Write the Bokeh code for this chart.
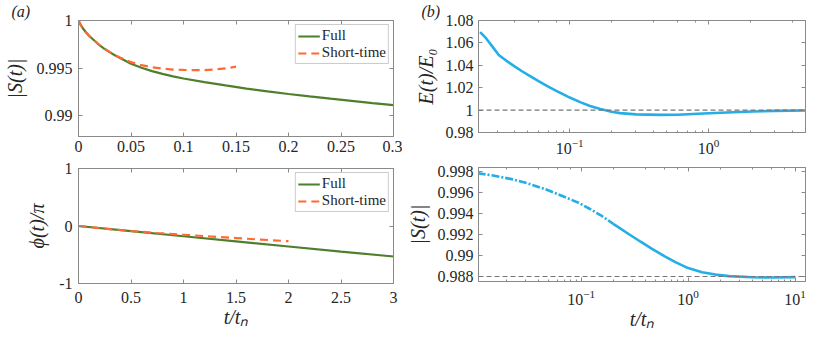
from bokeh.plotting import figure
from bokeh.layouts import row, column
from bokeh.models import (Range1d, FixedTicker, CustomJSTickFormatter, LinearAxis, LogAxis,
                          Legend, LegendItem, Span, LogTicker, Title)
from bokeh.embed import file_html
from bokeh.resources import INLINE

# ---------------- data ----------------
# (a) top: |S(t)| vs t/t_n
t_full = [0, 0.0025, 0.005, 0.0075, 0.01, 0.015, 0.02, 0.025, 0.03, 0.035, 0.04, 0.05,
          0.06, 0.07, 0.08, 0.09, 0.1, 0.12, 0.14, 0.16, 0.18, 0.2, 0.22, 0.24, 0.26,
          0.28, 0.3]
S_full = [1.0, 0.99945, 0.99905, 0.99870, 0.99840, 0.99790, 0.99740, 0.99700, 0.99665,
          0.99632, 0.99602, 0.99545, 0.99503, 0.99468, 0.99438, 0.99412, 0.99390, 0.99352,
          0.99317, 0.99283, 0.99254, 0.99227, 0.99202, 0.99178, 0.99155, 0.99132, 0.99110]
t_short = [0, 0.0025, 0.005, 0.0075, 0.01, 0.015, 0.02, 0.025, 0.03, 0.035, 0.04, 0.05,
           0.06, 0.07, 0.08, 0.09, 0.1, 0.11, 0.12, 0.13, 0.14, 0.15]
S_short = [1.0, 0.99945, 0.99905, 0.99870, 0.99840, 0.99790, 0.99742, 0.99702, 0.99667,
           0.99636, 0.99609, 0.99562, 0.99530, 0.99508, 0.99493, 0.99484, 0.99480, 0.99478,
           0.99479, 0.99485, 0.99497, 0.99514]

# (a) bottom: phi(t)/pi vs t/t_n
tp_full = [0, 0.5, 1, 1.5, 2, 2.5, 3]
phi_full = [0, -0.09, -0.178, -0.266, -0.357, -0.445, -0.53]
tp_short = [0, 0.25, 0.5, 0.75, 1, 1.25, 1.5, 1.75, 2]
phi_short = [0, -0.045, -0.087, -0.122, -0.152, -0.182, -0.21, -0.238, -0.264]

# (b) top: E(t)/E0 vs t/t_n (log axis)
tE = [0.0226, 0.025, 0.028, 0.0309, 0.035, 0.04, 0.045, 0.05, 0.06, 0.07, 0.08, 0.09,
      0.1, 0.12, 0.14, 0.166, 0.2, 0.231, 0.3, 0.448, 0.6, 0.916, 1.5, 2.09, 3.0, 5.0]
E = [1.0696, 1.0640, 1.0560, 1.0490, 1.0440, 1.0390, 1.0349, 1.0314, 1.0256, 1.0210,
     1.0172, 1.0140, 1.0112, 1.0069, 1.0037, 1.0009, 0.9986, 0.9973, 0.9962, 0.9957,
     0.9959, 0.9970, 0.9981, 0.9987, 0.9993, 0.9997]
E_ref = 1.0

# (b) bottom: |S(t)| vs t/t_n (log axis)
tS = [0.0108, 0.015, 0.0224, 0.032, 0.046, 0.065, 0.0946, 0.12, 0.156, 0.2, 0.278, 0.36,
      0.46, 0.6, 0.76, 1.0, 1.35, 1.8, 2.41, 3.98, 6.0, 10.0]
S_long = [0.99787, 0.99765, 0.99730, 0.99688, 0.99635, 0.99573, 0.99505, 0.99447, 0.99378,
          0.99303, 0.99206, 0.99132, 0.99063, 0.98995, 0.98937, 0.98880, 0.98841, 0.98818,
          0.98803, 0.98792, 0.98790, 0.98794]
S_ref = 0.988

# tick values
xt_a1 = [0, 0.05, 0.1, 0.15, 0.2, 0.25, 0.3]
yt_a1 = [0.99, 0.995, 1]
xt_a2 = [0, 0.5, 1, 1.5, 2, 2.5, 3]
yt_a2 = [-1, 0, 1]
yt_b1 = [0.98, 1.0, 1.02, 1.04, 1.06, 1.08]
yt_b2 = [0.988, 0.99, 0.992, 0.994, 0.996, 0.998]

# ---------------- style ----------------
FONT = "Liberation Serif"
AX = "#8a8a8a"
TXT = "#262626"
GREEN = "#4E7F2B"
ORANGE = "#FF6A33"
BLUE = "#22AEE6"
GRAY = "#777777"

fmt = CustomJSTickFormatter(code="return Number(tick.toFixed(6)).toString();")
blank = CustomJSTickFormatter(code="return '';")


def make_fig(w, h, bl, br, bt, bb, xr, yr, xtype="linear"):
    p = figure(width=w, height=h, x_range=xr, y_range=yr, x_axis_type=xtype,
               output_backend="svg", toolbar_location=None,
               min_border_left=bl, min_border_right=br, min_border_top=bt, min_border_bottom=bb)
    p.grid.visible = False
    p.outline_line_color = AX
    p.background_fill_color = "white"
    p.border_fill_color = "white"
    return p


def style_axis(ax, minor=False, standoff=5):
    ax.axis_line_color = AX
    ax.major_tick_line_color = AX
    ax.major_tick_in = 4
    ax.major_tick_out = 0
    if minor:
        ax.minor_tick_line_color = AX
        ax.minor_tick_in = 2
        ax.minor_tick_out = 0
    else:
        ax.minor_tick_line_color = None
    ax.major_label_text_font = FONT
    ax.major_label_text_font_size = "16px"
    ax.major_label_text_color = TXT
    ax.major_label_standoff = standoff
    ax.axis_label_text_font = FONT
    ax.axis_label_text_font_style = "italic"
    ax.axis_label_text_font_size = "20px"
    ax.axis_label_text_color = TXT


def mirror(p, xticks=None, yticks=None, logx=False):
    if logx:
        top = LogAxis(ticker=LogTicker(), formatter=blank)
        style_axis(top, minor=True, standoff=0)
    else:
        top = LinearAxis(ticker=FixedTicker(ticks=xticks), formatter=blank)
        style_axis(top, standoff=0)
    top.major_label_text_font_size = "0px"
    right = LinearAxis(ticker=FixedTicker(ticks=yticks), formatter=blank)
    style_axis(right, standoff=0)
    right.major_label_text_font_size = "0px"
    p.add_layout(top, "above")
    p.add_layout(right, "right")


def legend(p, items):
    lg = Legend(items=items, location="top_right", margin=4, padding=2, spacing=0,
                label_text_font=FONT, label_text_font_size="15px", label_text_color=TXT,
                glyph_width=22, glyph_height=16, label_standoff=2, label_height=16,
                border_line_color="#999999", border_line_width=1,
                background_fill_color="white", background_fill_alpha=1)
    p.add_layout(lg)


def panel_tag(p, text, offset):
    t = Title(text=text, align="left", offset=offset, standoff=1,
              text_font=FONT, text_font_style="italic", text_font_size="16px",
              text_color=TXT)
    p.add_layout(t, "above")


# canvas origin is at page (8, 8)
# ---------------- (a) top ----------------
pa1 = make_fig(402, 158, 68, 9, 20, 22, Range1d(0, 0.3), Range1d(0.9878, 1.0))
pa1.xaxis.ticker = FixedTicker(ticks=xt_a1)
pa1.yaxis.ticker = FixedTicker(ticks=yt_a1)
pa1.xaxis.formatter = fmt
pa1.yaxis.formatter = fmt
style_axis(pa1.xaxis[0], standoff=4)
style_axis(pa1.yaxis[0], standoff=6)
pa1.yaxis.axis_label = "|S(t)|"
pa1.yaxis.axis_label_standoff = 8
r1 = pa1.line(t_full, S_full, line_color=GREEN, line_width=2.2)
r2 = pa1.line(t_short, S_short, line_color=ORANGE, line_width=2.2, line_dash="8 5")
mirror(pa1, xt_a1, yt_a1)
legend(pa1, [LegendItem(label="Full", renderers=[r1]), LegendItem(label="Short-time", renderers=[r2])])
panel_tag(pa1, "(a)", -67)

# ---------------- (a) bottom ----------------
pa2 = make_fig(402, 177, 68, 8, 10, 52, Range1d(0, 3), Range1d(-1, 1))
pa2.xaxis.ticker = FixedTicker(ticks=xt_a2)
pa2.yaxis.ticker = FixedTicker(ticks=yt_a2)
pa2.xaxis.formatter = fmt
pa2.yaxis.formatter = fmt
style_axis(pa2.xaxis[0], standoff=8)
style_axis(pa2.yaxis[0], standoff=6)
pa2.yaxis.axis_label = "ϕ(t)/π"
pa2.yaxis.axis_label_standoff = 8
pa2.xaxis.axis_label = "t/tₙ"
pa2.xaxis.axis_label_standoff = 0
r3 = pa2.line(tp_full, phi_full, line_color=GREEN, line_width=2.2)
r4 = pa2.line(tp_short, phi_short, line_color=ORANGE, line_width=2.2, line_dash="8 5")
mirror(pa2, xt_a2, yt_a2)
legend(pa2, [LegendItem(label="Full", renderers=[r3]), LegendItem(label="Short-time", renderers=[r4])])

# ---------------- (b) top ----------------
pb1 = make_fig(407, 160, 74, 4, 20, 28, Range1d(0.022, 5.0), Range1d(0.98, 1.08), xtype="log")
pb1.yaxis.ticker = FixedTicker(ticks=yt_b1)
pb1.yaxis.formatter = fmt
style_axis(pb1.xaxis[0], minor=True, standoff=6)
style_axis(pb1.yaxis[0], standoff=5)
pb1.yaxis.axis_label = "E(t)/E₀"
pb1.yaxis.axis_label_standoff = 6
pb1.add_layout(Span(location=E_ref, dimension="width", line_color=GRAY, line_width=1.2,
                    line_dash="5 3"))
pb1.line(tE, E, line_color=BLUE, line_width=2.6)
mirror(pb1, yticks=yt_b1, logx=True)
panel_tag(pb1, "(b)", -57)

# ---------------- (b) bottom ----------------
pb2 = make_fig(407, 175, 76, 4, 7, 54, Range1d(0.011, 12.5), Range1d(0.98752, 0.99841), xtype="log")
pb2.yaxis.ticker = FixedTicker(ticks=yt_b2)
pb2.yaxis.formatter = fmt
style_axis(pb2.xaxis[0], minor=True, standoff=8)
style_axis(pb2.yaxis[0], standoff=5)
pb2.yaxis.axis_label = "|S(t)|"
pb2.yaxis.axis_label_standoff = 6
pb2.xaxis.axis_label = "t/tₙ"
pb2.xaxis.axis_label_standoff = 0
pb2.add_layout(Span(location=S_ref, dimension="width", line_color=GRAY, line_width=1.2,
                    line_dash="5 3"))
k = 10  # early part drawn dash-dot, later part solid
pb2.line(tS[:k], S_long[:k], line_color=BLUE, line_width=2.6, line_dash="8 2 2 2")
pb2.line(tS[k - 1:], S_long[k - 1:], line_color=BLUE, line_width=2.6)
mirror(pb2, yticks=yt_b2, logx=True)

layout = row(column(pa1, pa2), column(pb1, pb2))

with open("out.html", "w") as f:
    f.write(file_html(layout, INLINE))
